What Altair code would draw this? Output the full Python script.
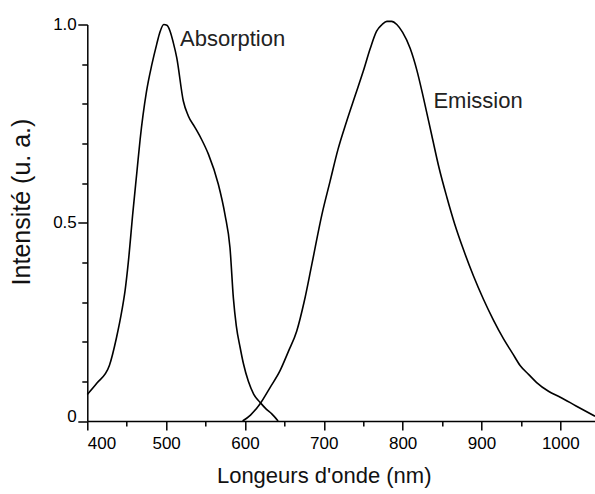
import altair as alt
import pandas as pd

# Absorption spectrum (nm, intensity)
abs_nm = [400, 412, 428, 437, 444, 448, 452, 458, 463, 467, 475, 482, 488, 492, 497, 501, 505, 509,
          513.5, 521.8, 528, 536.7, 545, 553.6, 566.2, 574.7, 581, 585.3, 589, 593.8, 598, 604.3,
          611, 619.2, 627, 634, 642]
abs_int = [0.067, 0.095, 0.14, 0.21, 0.28, 0.33, 0.40, 0.53, 0.63, 0.71, 0.83, 0.9, 0.95, 0.98, 1.0, 0.998, 0.983, 0.955,
           0.916, 0.807, 0.77, 0.74, 0.71, 0.673, 0.597, 0.52, 0.437, 0.31, 0.24, 0.186, 0.145, 0.1,
           0.068, 0.047, 0.03, 0.018, 0.0]

# Emission spectrum
em_nm = [597, 607, 619, 632, 644.5, 655, 665.7, 675, 684.8, 697.5, 708, 718, 729, 740, 750, 759, 767,
         774, 780, 786, 792.6, 800, 809.5, 818, 826.4, 837, 846, 856, 866, 877, 890, 902.5, 915,
         928, 939, 949, 960, 970, 985, 1000, 1020, 1044]
em_int = [0.0, 0.015, 0.043, 0.085, 0.127, 0.175, 0.227, 0.3, 0.395, 0.52, 0.605, 0.685, 0.756, 0.822, 0.882, 0.94, 0.983,
          1.0, 1.008, 1.008, 1.0, 0.98, 0.94, 0.885, 0.815, 0.72, 0.64, 0.565, 0.497, 0.433, 0.365, 0.307, 0.255,
          0.207, 0.172, 0.14, 0.117, 0.097, 0.075, 0.06, 0.038, 0.012]

label_text = ["Absorption", "Emission"]
label_nm = [517.6, 839]
label_int = [0.946, 0.789]

x_ticks = [400, 450, 500, 550, 600, 650, 700, 750, 800, 850, 900, 950, 1000]
y_ticks = [0, 0.1, 0.2, 0.3, 0.4, 0.5, 0.6, 0.7, 0.8, 0.9, 1.0]

df = pd.concat([
    pd.DataFrame({"nm": abs_nm, "val": abs_int, "serie": "Absorption"}),
    pd.DataFrame({"nm": em_nm, "val": em_int, "serie": "Emission"}),
])
labels = pd.DataFrame({"txt": label_text, "nm": label_nm, "val": label_int})

font = "Liberation Sans"

xscale = alt.Scale(domain=[400, 1044], nice=False, zero=False)
yscale = alt.Scale(domain=[0, 1], nice=False)

xaxis = alt.Axis(
    values=x_ticks,
    format="d",
    labelExpr="datum.value % 100 == 0 ? datum.label : ''",
    tickSize={"condition": {"test": "datum.value % 100 == 0", "value": 9}, "value": 5},
    labelOverlap=False,
    labelPadding=5,
    labelFontSize=17,
    title="Longeurs d'onde (nm)",
    titleFontSize=22,
    titleFontWeight="normal",
    titleX=236.4,
    titleY=61,
    titleAlign="center",
    titleBaseline="alphabetic",
    grid=False,
)
yaxis = alt.Axis(
    values=y_ticks,
    labelExpr="datum.value == 0 ? '0' : (datum.value == 0.5 ? '0.5' : (datum.value == 1 ? '1.0' : ''))",
    tickSize={"condition": {"test": "datum.value == 0 || datum.value == 0.5 || datum.value == 1", "value": 9.5}, "value": 5.5},
    labelBaseline={"condition": {"test": "datum.value == 0", "value": "alphabetic"}, "value": "middle"},
    labelOverlap=False,
    labelPadding=1.5,
    labelFontSize=17,
    title="Intensité (u. a.)",
    titleFontSize=25,
    titleFontWeight="normal",
    titleX=-66,
    titleY=177,
    titleAngle=-90,
    titleAlign="center",
    titleBaseline="middle",
    grid=False,
)

lines = alt.Chart(df).mark_line(color="black", strokeWidth=1.6, interpolate="monotone").encode(
    x=alt.X("nm:Q", scale=xscale, axis=xaxis),
    y=alt.Y("val:Q", scale=yscale, axis=yaxis),
    detail="serie:N",
)

texts = alt.Chart(labels).mark_text(
    align="left", baseline="alphabetic", font=font, fontSize=22, color="#222"
).encode(
    x=alt.X("nm:Q", scale=xscale, axis=xaxis),
    y=alt.Y("val:Q", scale=yscale, axis=yaxis),
    text="txt:N",
)

chart = (lines + texts).properties(
    width=507.7,
    height=396.5,
    autosize=alt.AutoSizeParams(type="none"),
    padding={"left": 87.3, "top": 24.5, "right": 0, "bottom": 73},
    background="white",
).configure_view(stroke=None).configure_axis(
    domainColor="black",
    domainWidth=1.5,
    tickColor="black",
    tickWidth=1.5,
    labelColor="black",
    titleColor="#111",
    labelFont=font,
    titleFont=font,
)

chart.save("out.html", embed_options={"renderer": "svg", "actions": False})
